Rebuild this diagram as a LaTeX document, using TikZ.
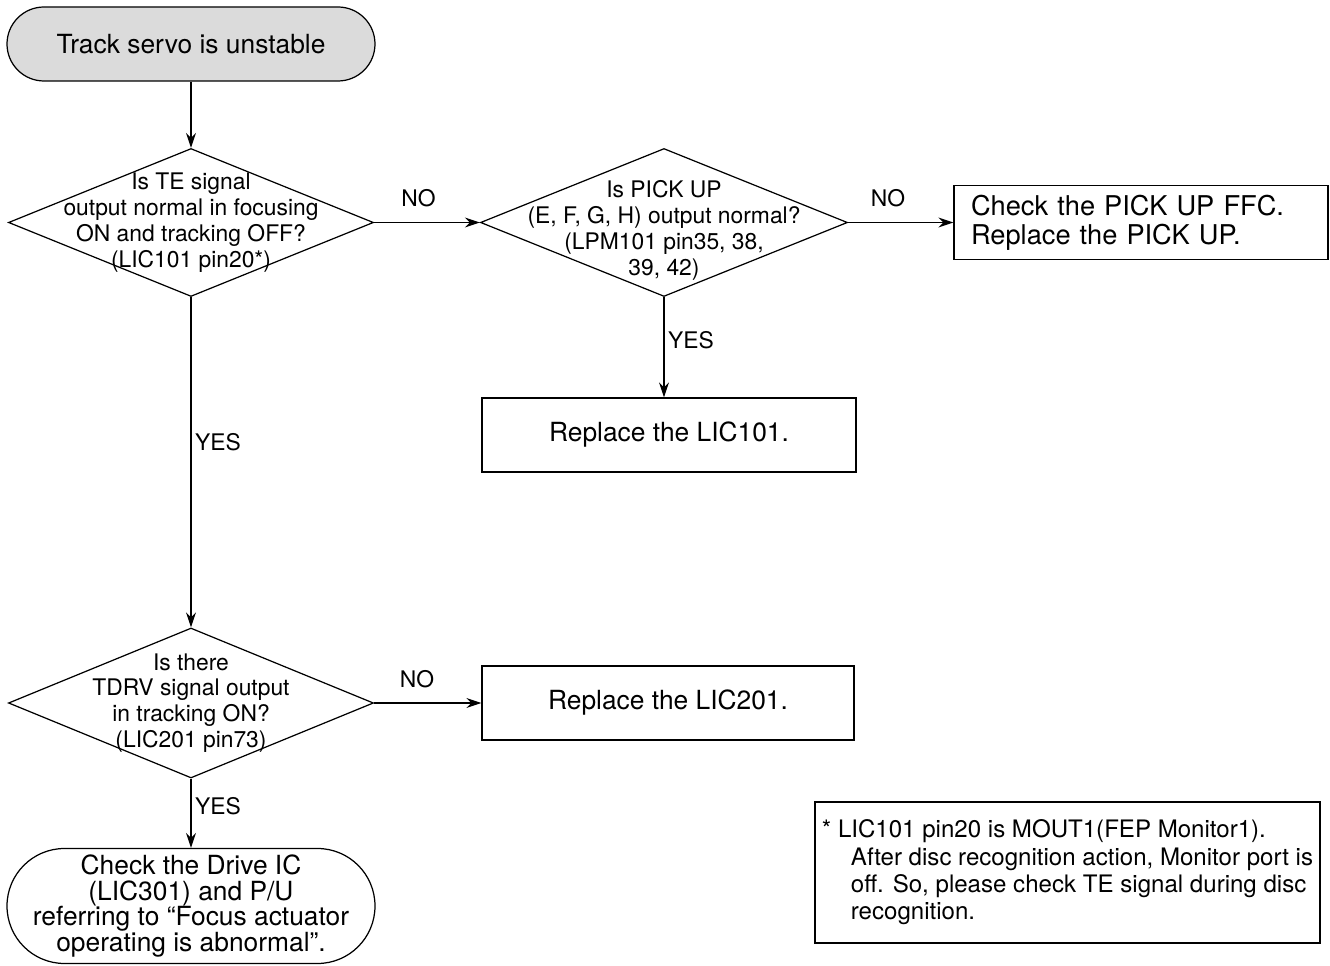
\documentclass[tikz,border=0pt]{standalone}
\usepackage{fontspec}
\setmainfont{TeX Gyre Heros}
\usetikzlibrary{shapes.geometric,arrows.meta}

\begin{document}
\begin{tikzpicture}[
  terminal/.style={draw, line width=0.7pt, rounded corners=0.74cm, minimum width=7.36cm, minimum height=1.48cm, align=center, font=\fontsize{15}{14.5}\selectfont},
  decision/.style={draw, diamond, line width=0.7pt, inner sep=0pt, minimum width=7.3cm, minimum height=2.96cm},
  qtext/.style={align=center, font=\fontsize{13}{14.7}\selectfont},
  action/.style={draw, line width=0.7pt, minimum width=7.48cm, minimum height=1.48cm, align=center, font=\fontsize{15}{16.4}\selectfont},
  arrow/.style={-{Stealth[length=0.3cm,width=0.2cm]}, line width=0.8pt},
  answer/.style={font=\fontsize{13}{15}\selectfont, inner sep=2pt}
]
\useasboundingbox (0,0) rectangle (26.6,-19.32);

\node[terminal, fill=gray!28] (start) at (3.82,-0.88) {Track servo is unstable};
\node[decision, label={[qtext]center:{Is TE signal\\output normal in focusing\\ON and tracking OFF?\\(LIC101 pin20*)}}] (te) at (3.82,-4.45) {};
\node[decision, minimum width=7.34cm, label={[qtext, yshift=-0.16cm]center:{Is PICK UP\\(E, F, G, H) output normal?\\(LPM101 pin35, 38,\\39, 42)}}] (pickup) at (13.28,-4.45) {};
\node[action, align=left, text width=6.8cm, inner xsep=0.34cm, font=\fontsize{15.5}{16.4}\selectfont] (ffc) at (22.82,-4.45) {Check the PICK UP FFC.\\Replace the PICK UP.};
\node[action] (lic101) at (13.38,-8.70) {Replace the LIC101.};
\node[decision, minimum height=3cm, label={[qtext]center:{Is there\\TDRV signal output\\in tracking ON?\\(LIC201 pin73)}}] (tdrv) at (3.82,-14.06) {};
\node[action, minimum width=7.44cm] (lic201) at (13.36,-14.06) {Replace the LIC201.};
\node[terminal, minimum height=2.3cm, rounded corners=1.15cm] (finish) at (3.82,-18.12) {Check the Drive IC\\(LIC301) and P/U\\referring to “Focus actuator\\operating is abnormal”.};
\node[draw, line width=0.7pt, minimum width=10.1cm, minimum height=2.82cm, align=left, font=\fontsize{13.7}{15.6}\selectfont] (note) at (21.35,-17.45) {* LIC101 pin20 is MOUT1(FEP Monitor1).\\\hspace*{0.58cm}After disc recognition action, Monitor port is\\\hspace*{0.58cm}off. So, please check TE signal during disc\\\hspace*{0.58cm}recognition.};

\draw[arrow] (start) -- (te);
\draw[arrow] (te) -- node[answer, above=0.22cm, pos=0.42] {NO} (pickup);
\draw[arrow] (pickup) -- node[answer, above=0.22cm, pos=0.38] {NO} (ffc);
\draw[arrow] (pickup) -- node[answer, right, pos=0.43] {YES} (pickup.south |- lic101.north);
\draw[arrow] (te) -- node[answer, right, pos=0.44] {YES} (tdrv);
\draw[arrow] (tdrv) -- node[answer, above=0.22cm, pos=0.4] {NO} (lic201);
\draw[arrow] (tdrv) -- node[answer, right, pos=0.4] {YES} (finish);
\end{tikzpicture}
\end{document}
